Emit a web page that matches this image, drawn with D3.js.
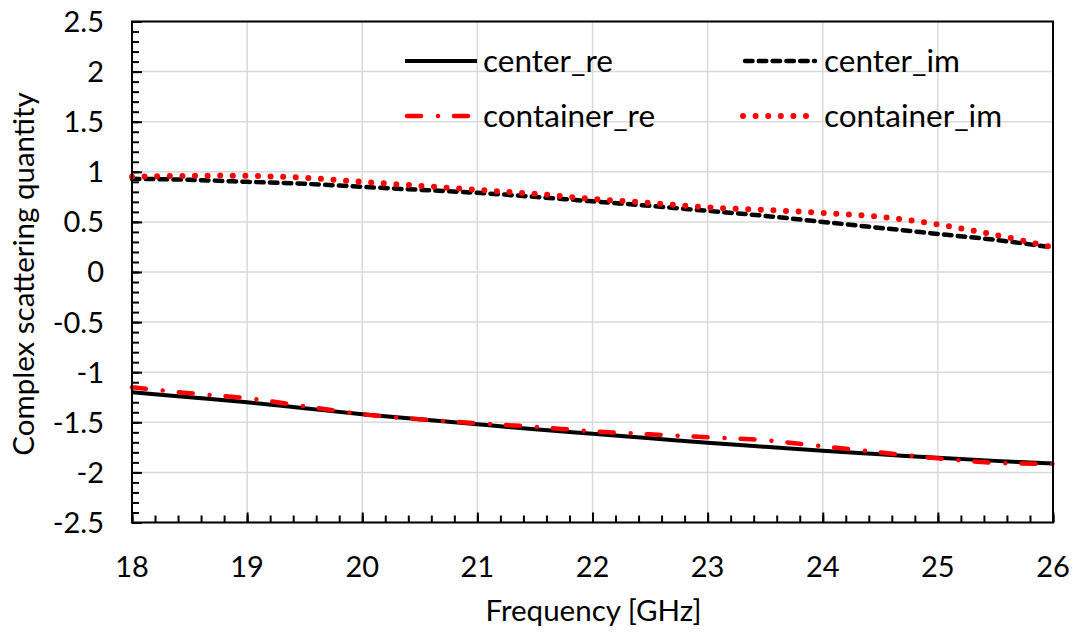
<!DOCTYPE html>
<html>
<head>
<meta charset="utf-8">
<script src="https://cdn.jsdelivr.net/npm/d3@7"></script>
<style>
  html, body { margin: 0; padding: 0; background: #fff; }
  svg { display: block; font-family: Lato, "Liberation Sans", sans-serif; }
</style>
</head>
<body>
<svg id="chart" width="1078" height="635"></svg>
<script>
// Frequency samples (GHz)
const freq = [18, 18.5, 19, 19.5, 20, 20.5, 21, 21.5, 22, 22.5, 23, 23.5, 24, 24.5, 25, 25.5, 26];

// Scattering quantities
const centerRe    = [-1.20, -1.25, -1.30, -1.36, -1.42, -1.47, -1.52, -1.57, -1.615, -1.66, -1.705, -1.745, -1.785, -1.82, -1.855, -1.885, -1.91];
const containerRe = [-1.15, -1.21, -1.26, -1.34, -1.42, -1.47, -1.51, -1.545, -1.59, -1.62, -1.65, -1.68, -1.74, -1.80, -1.86, -1.905, -1.915];
const centerIm    = [0.93, 0.92, 0.90, 0.88, 0.85, 0.82, 0.79, 0.75, 0.705, 0.66, 0.61, 0.56, 0.50, 0.44, 0.38, 0.32, 0.245];
const containerIm = [0.95, 0.96, 0.96, 0.94, 0.90, 0.86, 0.82, 0.78, 0.73, 0.69, 0.645, 0.62, 0.59, 0.55, 0.475, 0.37, 0.245];

const xTicks = [18, 19, 20, 21, 22, 23, 24, 25, 26];
const yTicks = [-2.5, -2, -1.5, -1, -0.5, 0, 0.5, 1, 1.5, 2, 2.5];

const seriesNames = ["center_re", "center_im", "container_re", "container_im"];

const svg = d3.select("#chart");
const plotLeft = 132, plotRight = 1053, plotTop = 21.5, plotBottom = 522.5;

const x = d3.scaleLinear().domain([18, 26]).range([plotLeft, plotRight]);
const y = d3.scaleLinear().domain([-2.5, 2.5]).range([plotBottom, plotTop]);

// Gridlines
const grid = svg.append("g").attr("stroke", "#d9d9d9").attr("stroke-width", 1.5);
grid.selectAll("line.v").data(xTicks).join("line").attr("class", "v")
  .attr("x1", d => x(d)).attr("x2", d => x(d)).attr("y1", plotTop).attr("y2", plotBottom);
grid.selectAll("line.h").data(yTicks).join("line").attr("class", "h")
  .attr("x1", plotLeft).attr("x2", plotRight).attr("y1", d => y(d)).attr("y2", d => y(d));

// Series styles
const styles = {
  center_re:    { color: "#000", width: 4,   dash: null,          cap: "butt" },
  center_im:    { color: "#000", width: 4.5, dash: "7.5 6.3",     cap: "round" },
  container_re: { color: "#ff0000", width: 4.5, dash: "14 17 0 16", cap: "round" },
  container_im: { color: "#ff0000", width: 6, dash: "0 12.6",      cap: "round" }
};
const seriesData = {
  center_re: centerRe, center_im: centerIm, container_re: containerRe, container_im: containerIm
};

const line = d3.line().x(d => x(d[0])).y(d => y(d[1])).curve(d3.curveCatmullRom);

const plot = svg.append("g");
["center_im", "container_im", "center_re", "container_re"].forEach(name => {
  const s = styles[name];
  plot.append("path")
    .datum(freq.map((f, i) => [f, seriesData[name][i]]))
    .attr("d", line)
    .attr("fill", "none")
    .attr("stroke", s.color)
    .attr("stroke-width", s.width)
    .attr("stroke-dasharray", s.dash)
    .attr("stroke-linecap", s.cap)
    .attr("stroke-linejoin", "round");
});

// Frame
svg.append("rect")
  .attr("x", plotLeft).attr("y", plotTop).attr("width", plotRight - plotLeft).attr("height", plotBottom - plotTop)
  .attr("fill", "none").attr("stroke", "#000").attr("stroke-width", 2);

// Axes with inward ticks (major + minor)
const yMinor = d3.range(-2.5, 2.5001, 0.1).map(v => +v.toFixed(2));
const xMinor = d3.range(18, 26.0001, 0.2).map(v => +v.toFixed(2));

const yAxisG = svg.append("g").attr("transform", `translate(${plotLeft},0)`)
  .call(d3.axisRight(y).tickValues(yMinor).tickSize(7).tickFormat(""));
const yMajorG = svg.append("g").attr("transform", `translate(${plotLeft},0)`)
  .call(d3.axisRight(y).tickValues(yTicks).tickSize(10).tickFormat(""));
const xAxisG = svg.append("g").attr("transform", `translate(0,${plotBottom})`)
  .call(d3.axisTop(x).tickValues(xMinor).tickSize(7).tickFormat(""));
const xMajorG = svg.append("g").attr("transform", `translate(0,${plotBottom})`)
  .call(d3.axisTop(x).tickValues(xTicks).tickSize(10).tickFormat(""));
[yAxisG, yMajorG, xAxisG, xMajorG].forEach(g => {
  g.select(".domain").remove();
  g.selectAll("line").attr("stroke", "#000").attr("stroke-width", 2);
});

// Tick labels
const fmt = d => String(d);
svg.append("g").selectAll("text").data(yTicks).join("text")
  .attr("x", plotLeft - 28).attr("y", d => y(d)).attr("dy", "0.36em")
  .attr("text-anchor", "end").attr("font-size", 29).attr("fill", "#000")
  .text(fmt);
svg.append("g").selectAll("text").data(xTicks).join("text")
  .attr("x", d => x(d)).attr("y", plotBottom + 54)
  .attr("text-anchor", "middle").attr("font-size", 29).attr("fill", "#000")
  .text(fmt);

// Axis titles
svg.append("text")
  .attr("x", (plotLeft + plotRight) / 2 + 1).attr("y", 621)
  .attr("text-anchor", "middle").attr("font-size", 29.5).attr("fill", "#000")
  .text("Frequency [GHz]");
svg.append("text")
  .attr("transform", `translate(34,${(plotTop + plotBottom) / 2 + 2}) rotate(-90)`)
  .attr("text-anchor", "middle").attr("font-size", 29.5).attr("fill", "#000")
  .text("Complex scattering quantity");

// Legend
const legendPos = {
  center_re:    { lx: 405, ly: 61 },
  center_im:    { lx: 743, ly: 61 },
  container_re: { lx: 405, ly: 116 },
  container_im: { lx: 741, ly: 116 }
};
const legend = svg.append("g");
seriesNames.forEach(name => {
  const s = styles[name], p = legendPos[name];
  legend.append("line")
    .attr("x1", p.lx + (s.cap === "round" ? 2 : 0)).attr("x2", p.lx + 72)
    .attr("y1", p.ly).attr("y2", p.ly)
    .attr("stroke", s.color).attr("stroke-width", s.width)
    .attr("stroke-dasharray", s.dash).attr("stroke-linecap", s.cap);
  legend.append("text")
    .attr("x", name.endsWith("_im") ? 824 : 483).attr("y", p.ly).attr("dy", "0.36em")
    .attr("font-size", 31.5).attr("fill", "#000")
    .text(name);
});
</script>
</body>
</html>
